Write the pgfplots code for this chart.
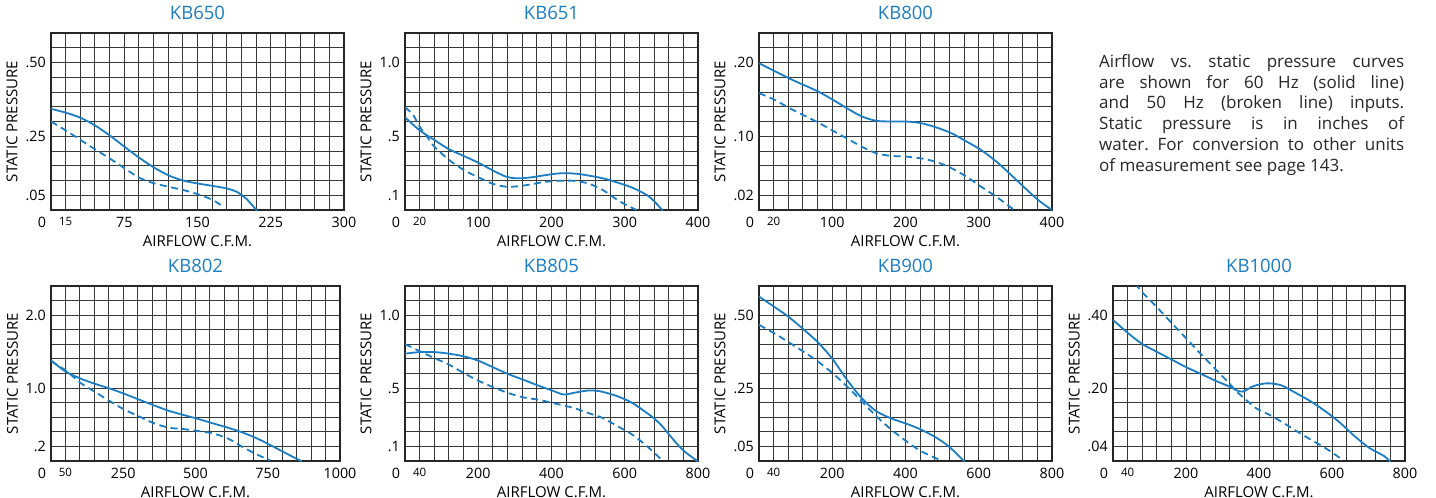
\documentclass[border=0pt]{standalone}
\usepackage{fontspec}
\setmainfont{Open Sans}
\usepackage{pgfplots}
\pgfplotsset{compat=1.18}
\definecolor{fanblue}{RGB}{27,125,195}
\newcommand{\tf}{\fontsize{14.3bp}{16bp}\selectfont}
\newcommand{\lf}{\fontsize{15bp}{17bp}\selectfont}
\newcommand{\smf}{\fontsize{11.5bp}{12bp}\selectfont}
\frenchspacing
\pgfplotsset{
  fan/.style={
    scale only axis, anchor=south west,
    width=293bp, height=177bp,
    /pgf/number format/assume math mode=true,
    grid=both,
    major grid style={black!78, line width=0.95bp},
    minor grid style={black!78, line width=0.95bp},
    axis line style={black!85, line width=1.1bp},
    major tick length=0pt, minor tick length=0pt,
    tick style={draw=none},
    xmin=0, ymin=0,
    tick label style={font=\tf, inner sep=0pt},
    xticklabel style={anchor=north, yshift=-7bp},
    yticklabel style={anchor=east, xshift=-5bp},
    title style={at={(axis description cs:0.5,1)}, anchor=base, yshift=8bp, inner sep=0pt, font=\fontsize{18.5bp}{20bp}\selectfont, text=fanblue},
    xlabel={AIRFLOW C.F.M.},
    ylabel={STATIC PRESSURE},
    every axis x label/.style={at={(axis description cs:0.5,0)}, anchor=north, yshift=-25bp, inner sep=0pt, font=\lf},
    every axis y label/.style={at={(axis description cs:-0.133,0.5)}, rotate=90, anchor=center, inner sep=0pt, font=\lf},
    extra description/.code={\node[font=\tf, inner sep=0pt, anchor=north] at ([xshift=-9bp,yshift=-7bp]axis description cs:0,0) {0};},
  },
  sol/.style={fanblue, line width=1.8bp, smooth, tension=0.5, mark=none},
  das/.style={fanblue, line width=1.8bp, smooth, tension=0.5, mark=none, dash pattern=on 7bp off 4.5bp},
}
\begin{document}
\begin{tikzpicture}
\useasboundingbox (0,0) rectangle (1436bp,-498bp);

% KB650
\begin{axis}[fan, at={(51bp,-210bp)}, title={KB650},
  xmax=300, ymax=0.6,
  xtick={15,75,150,225,300}, xticklabels={{\smf 15},75,150,225,300},
  minor xtick={0,15,...,300},
  ytick={0.05,0.25,0.5}, yticklabels={.05,.25,.50},
  minor ytick={0,0.05,...,0.6}]
\addplot[sol] coordinates {(0,0.343)(15,0.330)(30,0.313)(45,0.287)(60,0.253)(75,0.215)(90,0.178)(105,0.145)(120,0.118)(135,0.100)(150,0.090)(165,0.082)(180,0.073)(190,0.062)(200,0.038)(211,-0.003)};
\addplot[das] coordinates {(0,0.300)(15,0.270)(30,0.238)(45,0.206)(60,0.175)(75,0.142)(90,0.110)(105,0.091)(120,0.079)(135,0.068)(150,0.054)(165,0.035)(175,0.014)};
\end{axis}

% KB651
\begin{axis}[fan, at={(405bp,-210bp)}, title={KB651},
  xmax=400, ymax=1.2,
  xtick={20,100,200,300,400}, xticklabels={{\smf 20},100,200,300,400},
  minor xtick={0,20,...,400},
  ytick={0.1,0.5,1.0}, yticklabels={.1,.5,1.0},
  minor ytick={0,0.1,...,1.2}]
\addplot[sol] coordinates {(0,0.629)(20,0.540)(40,0.475)(60,0.412)(80,0.367)(100,0.321)(120,0.268)(138,0.226)(152,0.215)(170,0.220)(190,0.235)(210,0.248)(225,0.249)(243,0.240)(270,0.215)(290,0.186)(310,0.152)(330,0.102)(340,0.060)(352,-0.005)};
\addplot[das] coordinates {(0,0.697)(11,0.645)(20,0.566)(30,0.498)(40,0.430)(60,0.340)(80,0.272)(100,0.222)(120,0.177)(138,0.158)(152,0.160)(170,0.172)(190,0.190)(210,0.198)(230,0.198)(250,0.180)(270,0.136)(290,0.068)(302,0.034)(316,0)};
\end{axis}

% KB800
\begin{axis}[fan, at={(759bp,-210bp)}, title={KB800},
  xmax=400, ymax=0.24,
  xtick={20,100,200,300,400}, xticklabels={{\smf 20},100,200,300,400},
  minor xtick={0,20,...,400},
  ytick={0.02,0.10,0.20}, yticklabels={.02,.10,.20},
  minor ytick={0,0.02,...,0.24}]
\addplot[sol] coordinates {(0,0.199)(20,0.189)(40,0.179)(60,0.170)(80,0.161)(100,0.150)(120,0.138)(140,0.127)(160,0.121)(180,0.120)(200,0.120)(220,0.118)(242,0.112)(263,0.104)(283,0.093)(303,0.0815)(324,0.0657)(344,0.0476)(364,0.029)(381,0.0136)(400,0)};
\addplot[das] coordinates {(0,0.1585)(20,0.150)(40,0.139)(60,0.129)(80,0.119)(100,0.108)(120,0.097)(140,0.086)(160,0.077)(180,0.0734)(200,0.0725)(223,0.0697)(243,0.0648)(263,0.0566)(283,0.0453)(303,0.0317)(324,0.018)(347,0.001)};
\end{axis}

% KB802
\begin{axis}[fan, at={(51bp,-461bp)}, width=289bp, height=175bp, title={KB802},
  xmax=1000, ymax=2.4,
  xtick={50,250,500,750,1000}, xticklabels={{\smf 50},250,500,750,1000},
  minor xtick={0,50,...,1000},
  ytick={0.2,1.0,2.0}, yticklabels={.2,1.0,2.0},
  minor ytick={0,0.2,...,2.4}]
\addplot[sol] coordinates {(0,1.380)(52,1.223)(102,1.131)(153,1.057)(205,0.992)(256,0.918)(306,0.840)(357,0.762)(408,0.688)(458,0.632)(509,0.577)(560,0.517)(612,0.457)(662,0.392)(713,0.309)(764,0.208)(815,0.1015)(868,-0.005)};
\addplot[das] coordinates {(0,1.37)(55,1.23)(102,1.071)(153,0.946)(205,0.817)(256,0.701)(306,0.609)(357,0.517)(408,0.457)(458,0.438)(509,0.411)(560,0.378)(612,0.309)(662,0.194)(713,0.088)(758,0.009)};
\end{axis}

% KB805
\begin{axis}[fan, at={(405bp,-461bp)}, height=175bp, title={KB805},
  xmax=800, ymax=1.2,
  xtick={40,200,400,600,800}, xticklabels={{\smf 40},200,400,600,800},
  minor xtick={0,40,...,800},
  ytick={0.1,0.5,1.0}, yticklabels={.1,.5,1.0},
  minor ytick={0,0.1,...,1.2}]
\addplot[sol] coordinates {(0,0.736)(41,0.747)(80,0.747)(120,0.736)(160,0.718)(200,0.688)(241,0.642)(281,0.597)(322,0.558)(362,0.519)(402,0.483)(433,0.456)(460,0.467)(499,0.483)(533,0.478)(580,0.444)(620,0.399)(660,0.330)(680,0.292)(700,0.245)(720,0.185)(740,0.125)(760,0.072)(780,0.033)(801,-0.005)};
\addplot[das] coordinates {(0,0.802)(41,0.752)(80,0.706)(120,0.661)(160,0.604)(200,0.551)(241,0.506)(281,0.467)(322,0.437)(362,0.421)(402,0.399)(460,0.364)(499,0.330)(539,0.296)(580,0.239)(620,0.182)(660,0.103)(702,0.005)};
\end{axis}

% KB900
\begin{axis}[fan, at={(759bp,-461bp)}, height=175bp, title={KB900},
  xmax=800, ymax=0.6,
  xtick={40,200,400,600,800}, xticklabels={{\smf 40},200,400,600,800},
  minor xtick={0,40,...,800},
  ytick={0.05,0.25,0.5}, yticklabels={.05,.25,.50},
  minor ytick={0,0.05,...,0.6}]
\addplot[sol] coordinates {(0,0.564)(40,0.530)(80,0.495)(120,0.453)(160,0.408)(200,0.351)(240,0.279)(280,0.216)(320,0.171)(361,0.146)(402,0.128)(442,0.108)(484,0.080)(520,0.048)(562,-0.003)};
\addplot[das] coordinates {(0,0.467)(40,0.439)(80,0.408)(120,0.376)(160,0.342)(200,0.302)(240,0.256)(280,0.205)(320,0.154)(361,0.108)(402,0.068)(442,0.034)(500,0)};
\end{axis}

% KB1000
\begin{axis}[fan, at={(1113bp,-461bp)}, width=292bp, height=175bp, title={KB1000},
  xmax=800, ymax=0.48,
  xtick={40,200,400,600,800}, xticklabels={{\smf 40},200,400,600,800},
  minor xtick={0,40,...,800},
  ytick={0.04,0.20,0.40}, yticklabels={.04,.20,.40},
  minor ytick={0,0.04,...,0.48}]
\addplot[sol] coordinates {(0,0.387)(41,0.351)(80,0.321)(121,0.299)(161,0.278)(201,0.257)(241,0.239)(281,0.220)(322,0.203)(340,0.193)(358,0.191)(384,0.205)(420,0.213)(460,0.208)(500,0.187)(541,0.164)(581,0.137)(622,0.105)(662,0.068)(702,0.036)(742,0.014)(760,-0.002)};
\addplot[das] coordinates {(60,0.487)(80,0.463)(121,0.421)(161,0.378)(201,0.336)(241,0.293)(282,0.251)(322,0.209)(338,0.191)(361,0.171)(393,0.144)(430,0.126)(466,0.105)(503,0.082)(541,0.059)(581,0.036)(631,0.002)};
\end{axis}

\node[anchor=north west, text width=305bp, align=justify, inner sep=0pt,
  font=\fontsize{17bp}{20.8bp}\selectfont, text=black!85] at (1099bp,-54bp)
  {Airflow vs. static pressure curves\linebreak are shown for 60 Hz (solid line)\linebreak and 50 Hz (broken line) inputs.\linebreak Static pressure is in inches of\linebreak water. For conversion to other units\linebreak of measurement see page 143.};
\end{tikzpicture}
\end{document}
